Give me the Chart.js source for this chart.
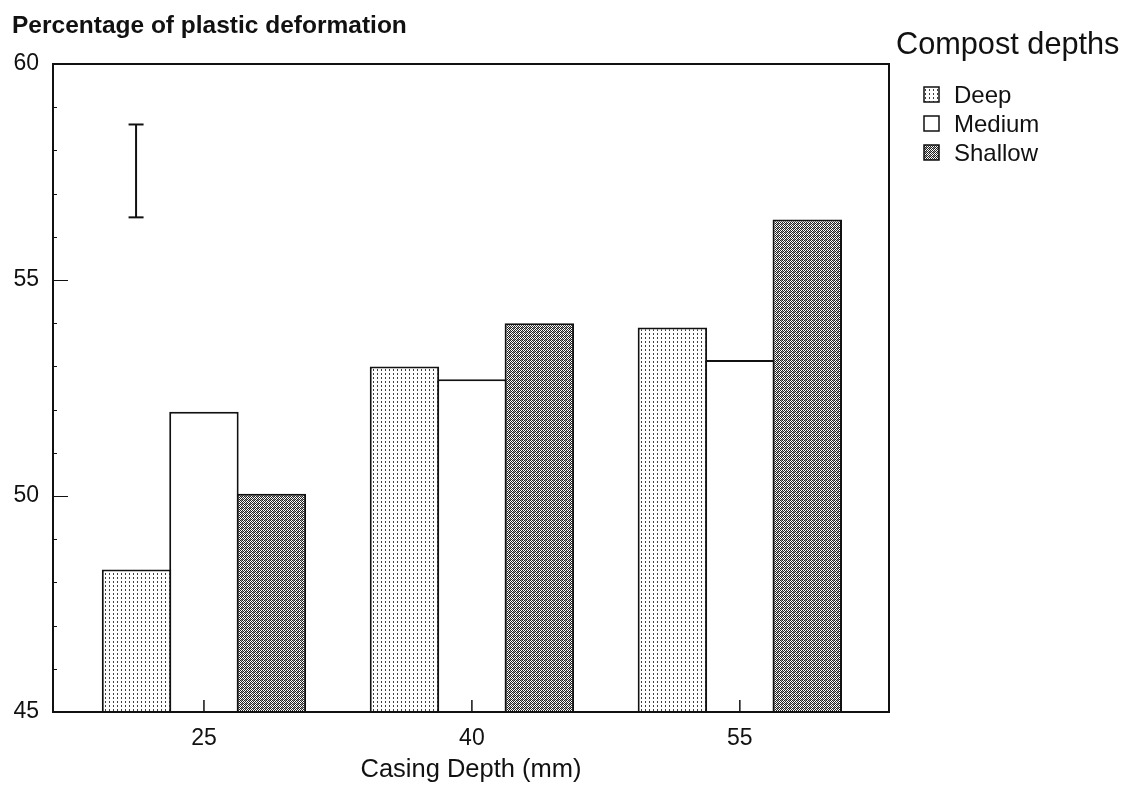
<!DOCTYPE html>
<html>
<head>
<meta charset="utf-8">
<script src="https://cdn.jsdelivr.net/npm/chart.js@4/dist/chart.umd.min.js"></script>
<style>
  html, body { margin: 0; padding: 0; background: #ffffff; }
  #wrap { position: relative; width: 1127px; height: 789px; }
</style>
</head>
<body>
<div id="wrap"><canvas id="c" width="1127" height="789"></canvas></div>
<script>
// ---- data ----
const casingDepths = [25, 40, 55];
const deepValues = [48.3, 53.0, 53.9];
const mediumValues = [51.95, 52.7, 53.15];
const shallowValues = [50.05, 54.0, 56.4];
const seriesNames = ['Deep', 'Medium', 'Shallow'];
const yTickValues = [45, 50, 55, 60];
const errorBarX = 21.2;
const errorBarRange = [56.45, 58.6];
const yAxisTitle = 'Percentage of plastic deformation';
const xAxisTitle = 'Casing Depth (mm)';
const legendTitle = 'Compost depths';

const FONT = '"Liberation Sans", Arial, Helvetica, sans-serif';
const INK = '#111111';

const canvas = document.getElementById('c');
const ctx = canvas.getContext('2d');

function makePattern(w, h, draw) {
  const t = document.createElement('canvas');
  t.width = w; t.height = h;
  const g = t.getContext('2d');
  g.fillStyle = '#ffffff';
  g.fillRect(0, 0, w, h);
  draw(g);
  return ctx.createPattern(t, 'repeat');
}
const deepFill = makePattern(4, 4, g => {
  g.fillStyle = '#404040';
  g.fillRect(1, 1, 1, 2);
});
const shallowFill = makePattern(4, 4, g => {
  g.fillStyle = '#222222';
  const on = [[0,0],[2,0],[1,1],[3,1],[0,2],[2,2],[1,3],[3,3]];
  on.forEach(p => g.fillRect(p[0], p[1], 1, 1));
  g.fillStyle = '#9a9a9a';
  g.fillRect(1, 0, 1, 1);
  g.fillRect(2, 3, 1, 1);
});
const seriesFills = [deepFill, '#ffffff', shallowFill];
const seriesValues = [deepValues, mediumValues, shallowValues];

const barDatasets = seriesValues.map((vals, i) => ({
  type: 'bar',
  label: seriesNames[i],
  data: vals.map((v, j) => ({ x: casingDepths[j], y: v })),
  backgroundColor: seriesFills[i],
  borderColor: INK,
  borderWidth: { top: 2, left: 2, right: 2, bottom: 0 },
  borderSkipped: false,
  inflateAmount: 0,
  barPercentage: 1.0297,
  categoryPercentage: 0.755
}));

const errorDataset = {
  type: 'line',
  label: 'LSD',
  data: errorBarRange.map(v => ({ x: errorBarX, y: v })),
  borderColor: INK,
  borderWidth: 2,
  pointStyle: 'line',
  pointRadius: 7.5,
  pointBorderWidth: 2,
  pointBorderColor: INK,
  fill: false
};

const framePlugin = {
  id: 'frame',
  afterDraw(chart) {
    const { ctx, chartArea: a, scales: { x, y } } = chart;
    ctx.save();
    ctx.strokeStyle = INK;
    ctx.lineWidth = 2;
    ctx.strokeRect(a.left, a.top, a.right - a.left, a.bottom - a.top);
    // y ticks (inside)
    ctx.lineWidth = 1;
    for (let v = y.min + 1; v < y.max; v++) {
      const py = Math.round(y.getPixelForValue(v)) + 0.5;
      const len = (v % 5 === 0) ? 15 : 4;
      ctx.beginPath();
      ctx.moveTo(a.left, py);
      ctx.lineTo(a.left + len, py);
      ctx.stroke();
    }
    // x ticks (inside)
    ctx.lineWidth = 1.5;
    casingDepths.forEach(v => {
      const px = x.getPixelForValue(v);
      ctx.beginPath();
      ctx.moveTo(px, a.bottom);
      ctx.lineTo(px, a.bottom - 12);
      ctx.stroke();
    });
    // y-axis title at top left
    ctx.fillStyle = INK;
    ctx.textAlign = 'left';
    ctx.textBaseline = 'alphabetic';
    ctx.font = 'bold 24.5px ' + FONT;
    ctx.fillText(yAxisTitle, 12, 33);
    // legend
    ctx.font = '30.7px ' + FONT;
    ctx.fillText(legendTitle, 896, 54);
    ctx.font = '24px ' + FONT;
    const baselines = [103, 132, 161];
    seriesNames.forEach((name, i) => {
      const b = baselines[i];
      ctx.fillStyle = seriesFills[i];
      ctx.fillRect(924, b - 16, 15, 15);
      ctx.strokeStyle = INK;
      ctx.lineWidth = 1.5;
      ctx.strokeRect(924, b - 16, 15, 15);
      ctx.fillStyle = INK;
      ctx.fillText(name, 954, b);
    });
    ctx.restore();
  }
};

new Chart(canvas, {
  type: 'bar',
  data: { datasets: [...barDatasets, errorDataset] },
  options: {
    responsive: false,
    animation: false,
    devicePixelRatio: 1,
    layout: { padding: { top: 64, right: 238, left: 0, bottom: 0 } },
    plugins: { legend: { display: false }, tooltip: { enabled: false }, title: { display: false } },
    scales: {
      x: {
        type: 'linear',
        min: 16.55,
        max: 63.35,
        offset: false,
        grid: { display: false, drawTicks: false },
        border: { display: false },
        afterBuildTicks: s => { s.ticks = casingDepths.map(v => ({ value: v })); },
        ticks: { font: { family: FONT, size: 23 }, color: INK, padding: 13 },
        title: { display: true, text: xAxisTitle, font: { family: FONT, size: 25.5 }, color: INK, padding: { top: 0, bottom: 4 } },
        afterFit: s => { s.height = 77; }
      },
      y: {
        type: 'linear',
        min: 45,
        max: 60,
        grid: { display: false, drawTicks: false },
        border: { display: false },
        afterBuildTicks: s => { s.ticks = yTickValues.map(v => ({ value: v })); },
        ticks: { font: { family: FONT, size: 23 }, color: INK, padding: 14 },
        afterFit: s => { s.width = 53; }
      }
    }
  },
  plugins: [framePlugin]
});
</script>
</body>
</html>
